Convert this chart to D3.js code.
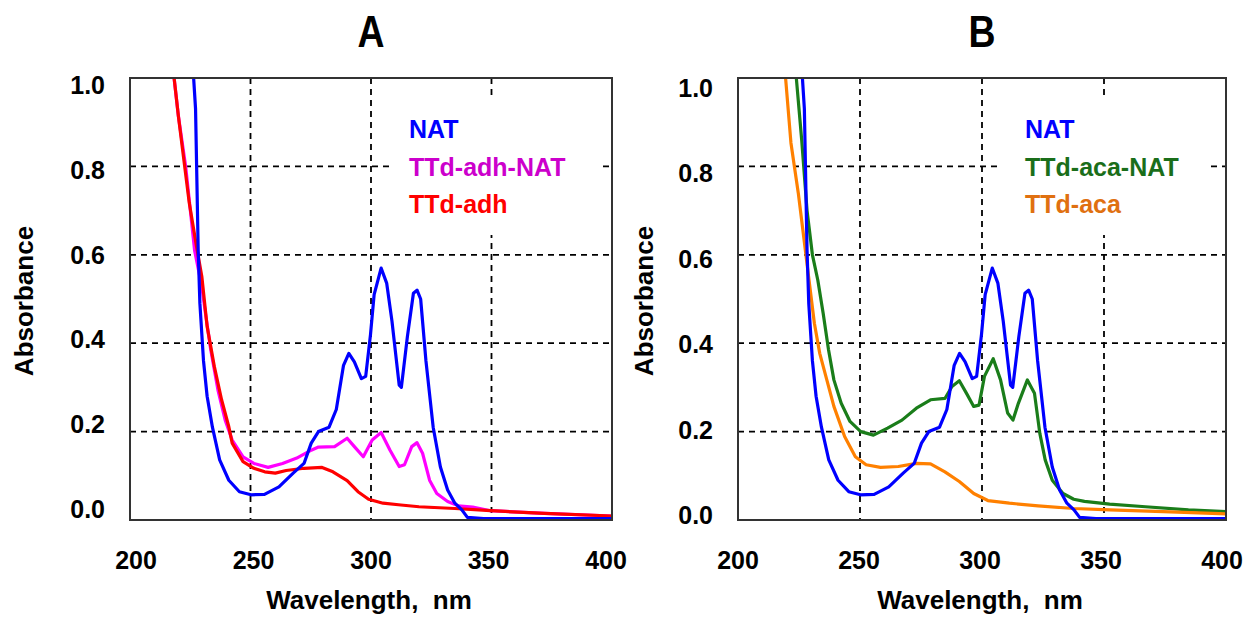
<!DOCTYPE html>
<html>
<head>
<meta charset="utf-8">
<script src="https://cdn.jsdelivr.net/npm/d3@7"></script>
<style>
  body { margin: 0; background: #fff; }
  svg text { font-family: "Liberation Sans", Arial, sans-serif; font-weight: bold; }
</style>
</head>
<body>
<svg id="chart" width="1252" height="617"></svg>
<script>
// ---- data ----
var xTicks = [200, 250, 300, 350, 400];
var yTicks = [0, 0.2, 0.4, 0.6, 0.8, 1.0];

// NAT (same spectrum in both panels)
var natWl  = [224, 226.4, 227.2, 228.3, 229, 230.5, 232, 234.2, 237.2, 241, 245.4, 250.2, 255.8, 261.8, 267.7, 272.2, 275.2, 278.2, 282.6, 285.6, 288.6, 290.8, 293.1, 296, 297.8, 299.8, 301.3, 304.2, 306.5, 308.7, 311.7, 312.6, 315.1, 317.6, 319.1, 320.6, 322.8, 325.8, 328.8, 331.8, 334.8, 337.7, 340, 346.7, 400];
var natAbs = [1.3, 1.0, 0.93, 0.61, 0.49, 0.36, 0.28, 0.21, 0.136, 0.09, 0.064, 0.057, 0.058, 0.075, 0.106, 0.128, 0.174, 0.2, 0.21, 0.25, 0.35, 0.377, 0.358, 0.32, 0.325, 0.42, 0.51, 0.57, 0.536, 0.45, 0.305, 0.30, 0.415, 0.513, 0.52, 0.5, 0.36, 0.21, 0.12, 0.068, 0.038, 0.023, 0.006, 0.003, 0.003];

// TTd-adh-NAT
var adhNatWl  = [216, 218.3, 220.1, 223.1, 226.8, 229.8, 231.3, 233.5, 236.5, 239.5, 242.4, 246.9, 251.4, 257.3, 263.3, 269.2, 275.2, 278.2, 284.9, 290.1, 293.1, 296.8, 300.5, 304.2, 307.9, 311.7, 313.9, 316.9, 319.1, 321.4, 324.3, 327.3, 331.8, 336.2, 342.2, 349.6, 372, 400];
var adhNatAbs = [1.15, 1.0, 0.913, 0.8, 0.61, 0.528, 0.468, 0.385, 0.294, 0.226, 0.181, 0.143, 0.128, 0.119, 0.128, 0.14, 0.158, 0.165, 0.166, 0.185, 0.166, 0.143, 0.181, 0.198, 0.158, 0.121, 0.125, 0.166, 0.175, 0.151, 0.09, 0.06, 0.042, 0.032, 0.029, 0.021, 0.015, 0.009];

// TTd-adh
var adhWl  = [216, 218.3, 220.1, 224.6, 227.6, 229.8, 232, 235, 238, 241, 242.4, 246.9, 251.4, 255.9, 260.3, 264.8, 272.2, 279.7, 284.2, 290.1, 294.6, 299, 305, 312.4, 319.9, 334.8, 349.6, 372, 400];
var adhAbs = [1.15, 1.0, 0.913, 0.717, 0.619, 0.551, 0.438, 0.347, 0.272, 0.211, 0.174, 0.132, 0.117, 0.109, 0.106, 0.112, 0.117, 0.119, 0.109, 0.089, 0.064, 0.047, 0.038, 0.034, 0.03, 0.026, 0.021, 0.015, 0.009];

// TTd-aca-NAT
var acaNatWl  = [222, 223.9, 226.1, 228.3, 230.5, 232.7, 234.9, 237.1, 239.3, 242.3, 245.9, 250.3, 255.5, 261.3, 267.2, 273.1, 278.9, 284.8, 287.7, 290.7, 293.6, 296.6, 298.8, 301, 304.6, 307.6, 310.5, 312.7, 314.9, 318.6, 321.5, 323.7, 325.9, 328.8, 333.2, 337.6, 342, 352.3, 367, 384.6, 400];
var acaNatAbs = [1.15, 1.0, 0.86, 0.70, 0.60, 0.543, 0.468, 0.385, 0.317, 0.264, 0.223, 0.2, 0.192, 0.208, 0.226, 0.253, 0.272, 0.275, 0.302, 0.315, 0.287, 0.257, 0.26, 0.325, 0.365, 0.317, 0.242, 0.226, 0.264, 0.317, 0.287, 0.196, 0.136, 0.09, 0.06, 0.047, 0.042, 0.036, 0.03, 0.023, 0.019];

// TTd-aca
var acaWl  = [218, 219.5, 221.7, 224.7, 226.9, 229.1, 231.3, 233.5, 236.4, 239.3, 243.7, 248.1, 252.5, 258.4, 265.7, 273.1, 278.9, 284.8, 290.7, 296.6, 302.4, 311.2, 323, 337.6, 352.3, 374.3, 400];
var acaAbs = [1.12, 1.0, 0.853, 0.74, 0.642, 0.543, 0.445, 0.377, 0.317, 0.257, 0.189, 0.143, 0.125, 0.119, 0.121, 0.128, 0.127, 0.109, 0.087, 0.06, 0.044, 0.038, 0.032, 0.026, 0.023, 0.019, 0.014];

function pairs(wl, ab) { return wl.map(function(w, i) { return [w, ab[i]]; }); }

var panels = [
  {
    id: "A", x0: 130, x1: 612, lblX: [136, 606], lblY: [509, 85],
    legX: 409, box: [390, 97, 208, 138], absX: 33,
    series: [
      { name: "TTd-adh-NAT", data: pairs(adhNatWl, adhNatAbs), color: "#ff00ff", text: "#cc00cc" },
      { name: "TTd-adh", data: pairs(adhWl, adhAbs), color: "#ff0000", text: "#ff0000" },
      { name: "NAT", data: pairs(natWl, natAbs), color: "#0000ff", text: "#0000ff" }
    ],
    legend: ["NAT", "TTd-adh-NAT", "TTd-adh"]
  },
  {
    id: "B", x0: 738, x1: 1226, lblX: [738, 1222], lblY: [515, 88],
    legX: 1025, box: [999, 97, 210, 138], absX: 653,
    series: [
      { name: "TTd-aca-NAT", data: pairs(acaNatWl, acaNatAbs), color: "#1a7d1a", text: "#1a6e1a" },
      { name: "TTd-aca", data: pairs(acaWl, acaAbs), color: "#ff8000", text: "#e07010" },
      { name: "NAT", data: pairs(natWl, natAbs), color: "#0000ff", text: "#0000ff" }
    ],
    legend: ["NAT", "TTd-aca-NAT", "TTd-aca"]
  }
];

var svg = d3.select("#chart");
var top0 = 78, bottom0 = 520;

panels.forEach(function(p, pi) {
  var x = d3.scaleLinear().domain([200, 400]).range([p.x0, p.x1]);
  var y = d3.scaleLinear().domain([0, 1]).range([bottom0, top0]);
  var xl = d3.scaleLinear().domain([200, 400]).range(p.lblX);
  var yl = d3.scaleLinear().domain([0, 1]).range(p.lblY);
  var g = svg.append("g");
  var colorOf = {};
  p.series.forEach(function(s) { colorOf[s.name] = s.text; });

  // grid
  g.selectAll(".vgrid").data(xTicks.slice(1, -1)).enter().append("line")
    .attr("x1", x).attr("x2", x).attr("y1", top0).attr("y2", bottom0)
    .attr("stroke", "#000").attr("stroke-width", 1.8).attr("stroke-dasharray", "6,5");
  g.selectAll(".hgrid").data(yTicks.slice(1, -1)).enter().append("line")
    .attr("x1", p.x0).attr("x2", p.x1).attr("y1", y).attr("y2", y)
    .attr("stroke", "#000").attr("stroke-width", 1.8).attr("stroke-dasharray", "6,5");

  // legend background covers the grid
  g.append("rect").attr("x", p.box[0]).attr("y", p.box[1])
    .attr("width", p.box[2]).attr("height", p.box[3]).attr("fill", "#fff");

  // curves
  var clipId = "clip" + pi;
  g.append("clipPath").attr("id", clipId).append("rect")
    .attr("x", p.x0).attr("y", top0).attr("width", p.x1 - p.x0).attr("height", bottom0 - top0);
  var line = d3.line().x(function(d) { return x(d[0]); }).y(function(d) { return y(d[1]); });
  g.append("g").attr("clip-path", "url(#" + clipId + ")")
    .selectAll("path").data(p.series).enter().append("path")
    .attr("d", function(s) { return line(s.data); })
    .attr("fill", "none").attr("stroke", function(s) { return s.color; })
    .attr("stroke-width", 3.2).attr("stroke-linejoin", "round");

  // frame
  g.append("rect").attr("x", p.x0).attr("y", top0)
    .attr("width", p.x1 - p.x0).attr("height", bottom0 - top0)
    .attr("fill", "none").attr("stroke", "#333").attr("stroke-width", 2);

  // tick labels
  g.selectAll(".xl").data(xTicks).enter().append("text")
    .attr("x", xl).attr("y", 569).attr("text-anchor", "middle")
    .attr("font-size", 25).attr("fill", "#000").text(function(d) { return d; });
  g.selectAll(".yl").data(yTicks).enter().append("text")
    .attr("x", p.x0 - 25).attr("y", function(d) { return yl(d) + 9; })
    .attr("text-anchor", "end").attr("font-size", 25).attr("fill", "#000")
    .text(d3.format(".1f"));

  // axis titles
  g.append("text").attr("x", (p.x0 + p.x1) / 2 - 2).attr("y", 609)
    .attr("text-anchor", "middle").attr("font-size", 26).attr("fill", "#000")
    .text("Wavelength,  nm").style("white-space", "pre");
  g.append("text")
    .attr("transform", "translate(" + p.absX + ",301) rotate(-90)")
    .attr("text-anchor", "middle").attr("font-size", 26).attr("fill", "#000")
    .text("Absorbance");

  // panel letter
  g.append("text")
    .attr("transform", "translate(" + ((p.x0 + p.x1) / 2) + ",47) scale(0.85,1)")
    .attr("text-anchor", "middle").attr("font-size", 44).attr("fill", "#000")
    .text(p.id);

  // legend
  g.selectAll(".leg").data(p.legend).enter().append("text")
    .attr("x", p.legX).attr("y", function(d, i) { return 138 + i * 37.5; })
    .attr("font-size", 25).attr("fill", function(d) { return colorOf[d]; })
    .text(function(d) { return d; });
});
</script>
</body>
</html>
